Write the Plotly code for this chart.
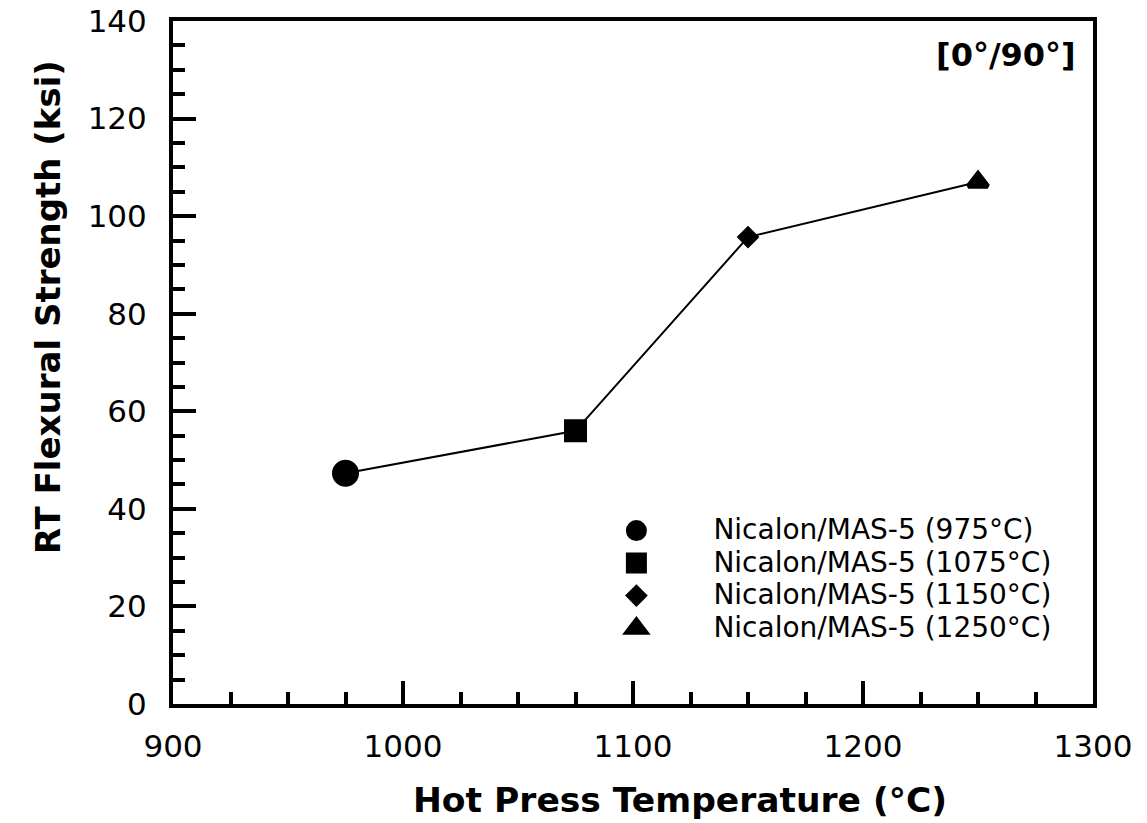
import plotly.graph_objects as go

temps = [975, 1075, 1150, 1250]
strength = [47.3, 56.0, 95.7, 107.0]
labels = ["Nicalon/MAS-5 (975°C)", "Nicalon/MAS-5 (1075°C)",
          "Nicalon/MAS-5 (1150°C)", "Nicalon/MAS-5 (1250°C)"]
symbols = ["circle", "square", "diamond", "triangle-up"]
sizes = [22, 18, 12, 17]
x_ticks = [900, 1000, 1100, 1200, 1300]
y_ticks = [0, 20, 40, 60, 80, 100, 120, 140]
x_title = "Hot Press Temperature (°C)"
y_title = "RT Flexural Strength (ksi)"
panel_label = "[0°/90°]"

fig = go.Figure()
fig.add_trace(go.Scatter(x=temps, y=strength, mode="lines",
                         line=dict(color="black", width=2), showlegend=False,
                         hoverinfo="skip"))
for t, s, lab, sym, sz in zip(temps, strength, labels, symbols, sizes):
    fig.add_trace(go.Scatter(
        x=[t], y=[s], mode="markers",
        name="<span style='font-size:28px'>" + lab + "</span>",
        marker=dict(symbol=sym, size=sz, color="black",
                    line=dict(color="black", width=5))))

font = "DejaVu Sans, Verdana, sans-serif"
fig.update_layout(
    width=1147, height=823,
    margin=dict(l=173, r=54, t=21, b=119),
    plot_bgcolor="white", paper_bgcolor="white",
    font=dict(family=font, color="black"),
    legend=dict(x=0.42, y=0.285, xanchor="left", yanchor="top",
                font=dict(size=22.7, family=font), itemwidth=144,
                bgcolor="rgba(0,0,0,0)", tracegroupgap=0),
    annotations=[
        dict(text="<b>" + panel_label + "</b>", x=0.9837, y=0.95, xref="paper", yref="paper",
             xanchor="right", yanchor="middle", showarrow=False,
             font=dict(size=32, family=font)),
        dict(text="<b>" + y_title + "</b>",
             textangle=-90, x=-0.136, y=0.581, xref="paper", yref="paper",
             xanchor="center", yanchor="middle", showarrow=False,
             font=dict(size=34, family=font)),
        dict(text="<b>" + x_title + "</b>",
             x=0.551, y=-0.1406, xref="paper", yref="paper",
             xanchor="center", yanchor="middle", showarrow=False,
             font=dict(size=34.5, family=font)),
    ],
)
fig.update_xaxes(
    range=[900, 1300], tickvals=x_ticks, ticks="inside", ticklen=23, tickwidth=3.5,
    tickcolor="black", showline=True, linewidth=4, linecolor="black", mirror=True,
    showgrid=False, zeroline=False, tickfont=dict(size=31), ticklabelstandoff=12,
    automargin=False, ticklabeloverflow="allow",
    minor=dict(dtick=25, ticks="inside", ticklen=12, tickwidth=3.5, tickcolor="black", showgrid=False),
)
fig.update_yaxes(
    range=[0, 140], tickvals=y_ticks, ticks="inside", ticklen=23, tickwidth=3.5,
    tickcolor="black", showline=True, linewidth=4, linecolor="black", mirror=True,
    showgrid=False, zeroline=False, tickfont=dict(size=31), ticklabelstandoff=16,
    automargin=False, ticklabeloverflow="allow",
    minor=dict(dtick=5, ticks="inside", ticklen=12, tickwidth=3.5, tickcolor="black", showgrid=False),
)
fig.write_html("out.html", config={"displayModeBar": False},
               post_script="document.body.style.margin='0';")
